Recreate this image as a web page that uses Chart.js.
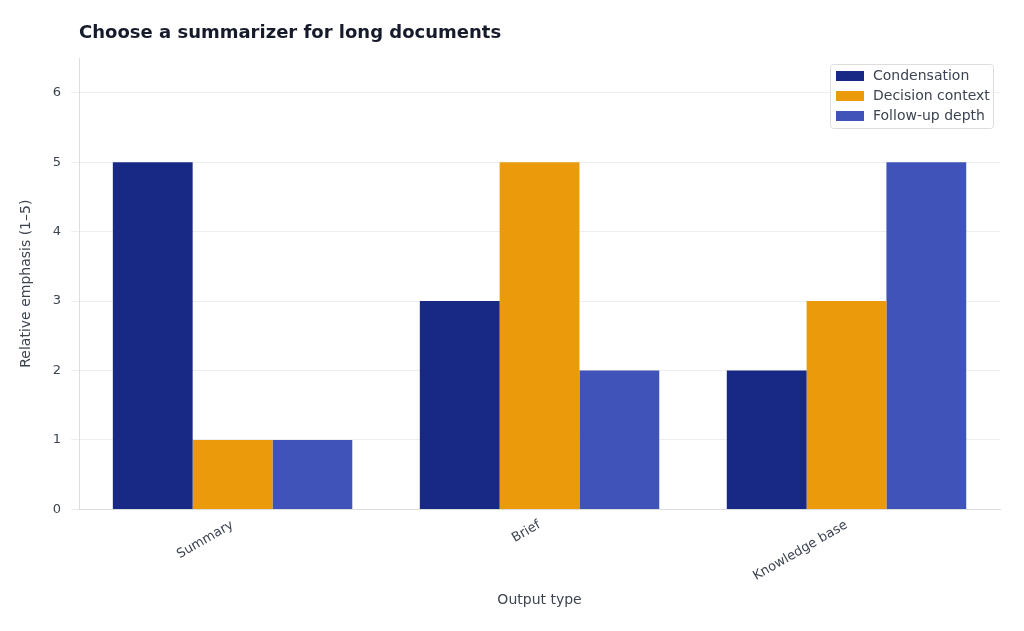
<!DOCTYPE html>
<html><head><meta charset="utf-8">
<script src="https://cdn.jsdelivr.net/npm/chart.js@4"></script>
<style>html,body{margin:0;background:#fff}#w{width:1024px;height:631px}</style>
</head><body><div id="w"><canvas id="c"></canvas></div>
<script>
const categories = ["Summary", "Brief", "Knowledge base"];
const seriesNames = ["Condensation", "Decision context", "Follow-up depth"];
const condensation = [5, 3, 2];
const decisionContext = [1, 5, 3];
const followUpDepth = [1, 2, 5];
const colors = ["#172984", "#EA9A0A", "#3F53B8"];
const yTicks = [0, 1, 2, 3, 4, 5, 6];
const chartTitle = 'Choose a summarizer for long documents';

const legendPlugin = {
  id: 'inLegend',
  afterDraw(chart) {
    const ctx = chart.ctx, a = chart.chartArea;
    ctx.save();
    ctx.font = 'bold 18px "DejaVu Sans"'; ctx.fillStyle = '#161b2b'; ctx.textBaseline = 'middle';
    ctx.fillText(chartTitle, a.left, 33);
    const w = 163, h = 64, x = a.right - w - 7, y = a.top + 6;
    ctx.fillStyle = 'rgba(255,255,255,0.9)';
    ctx.strokeStyle = '#dddddd'; ctx.lineWidth = 1;
    ctx.beginPath(); ctx.roundRect(x + 0.5, y + 0.5, w, h, 3); ctx.fill(); ctx.stroke();
    ctx.font = '14px "DejaVu Sans"';
    chart.data.datasets.forEach((d, i) => {
      const yy = y + 12 + i * 20;
      ctx.fillStyle = d.backgroundColor;
      ctx.fillRect(x + 6, yy - 5, 28, 10);
      ctx.fillStyle = '#3d4451';
      ctx.fillText(d.label, x + 43, yy);
    });
    ctx.restore();
  }
};

new Chart(document.getElementById('c'), {
  type: 'bar',
  data: {
    labels: categories,
    datasets: [condensation, decisionContext, followUpDepth].map((v, i) => ({
      label: seriesNames[i], data: v, backgroundColor: colors[i],
      categoryPercentage: 0.78, barPercentage: 1
    }))
  },
  options: {
    responsive: true, maintainAspectRatio: false, animation: false,
    layout: { padding: { left: 14, right: 24, top: 58, bottom: 18 } },
    plugins: { legend: { display: false }, title: { display: false }, tooltip: { enabled: false } },
    scales: {
      x: {
        grid: { display: false },
        border: { color: '#dddddd' },
        ticks: { color: '#3d4451', font: { family: 'DejaVu Sans', size: 13 }, maxRotation: 30, minRotation: 30, padding: 0 },
        title: { display: true, text: 'Output type', color: '#3d4451', font: { family: 'DejaVu Sans', size: 14 }, padding: { top: 8 } }
      },
      y: {
        min: 0, max: 6.5,
        afterBuildTicks(s) { s.ticks = yTicks.map(v => ({ value: v })); },
        grid: { color: '#eeeeee' },
        border: { color: '#dddddd' },
        ticks: { color: '#3d4451', font: { family: 'DejaVu Sans', size: 13 }, padding: 10 },
        title: { display: true, text: 'Relative emphasis (1–5)', color: '#3d4451', font: { family: 'DejaVu Sans', size: 14 }, padding: { bottom: 8 } }
      }
    }
  },
  plugins: [legendPlugin]
});
</script></body></html>
